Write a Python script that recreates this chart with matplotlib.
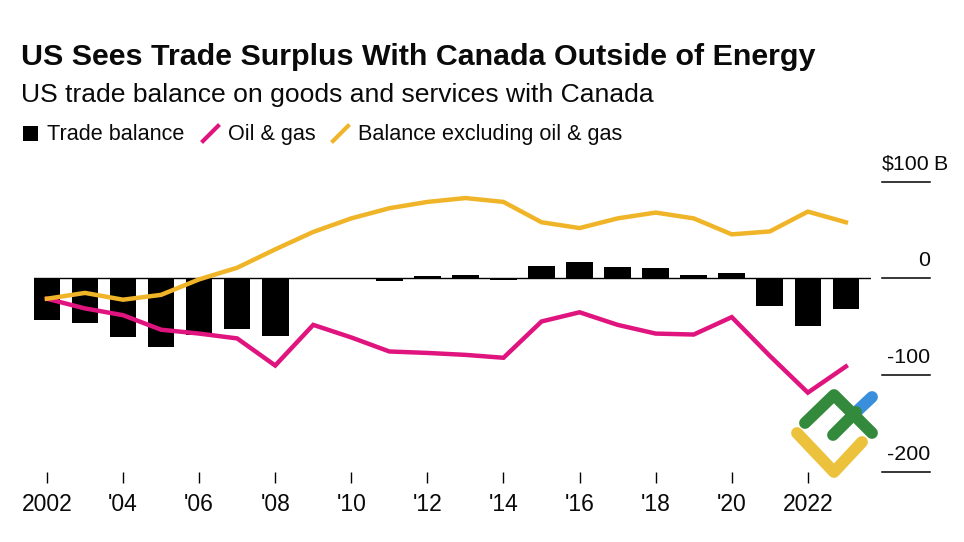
import matplotlib
matplotlib.use('Agg')
import matplotlib.pyplot as plt
import numpy as np

plt.rcParams['font.family'] = ['Liberation Sans', 'DejaVu Sans']

W, H = 964, 542

years = np.arange(2002, 2024)
trade_balance = [-43, -46, -61, -70.5, -58, -52, -59, -0.5, 0.5, -3, 2,
                 4, -2, 13, 16.5, 12, 11, 4, 5.5, -29, -49.5, -32]
oil_gas = [-21, -31, -38, -53, -57, -62, -90, -48, -61, -75.5, -77,
           -79, -82, -44.5, -35, -48, -57, -58, -40, -80, -118, -91]
ex_oil_gas = [-21, -15, -22, -17, -1, 11, 30, 48, 62, 72.5, 79,
              83, 79, 58, 52, 62, 68, 62, 45.5, 48.5, 69, 58]
x_ticks = [2002, 2004, 2006, 2008, 2010, 2012, 2014, 2016, 2018, 2020, 2022]
x_labels = ['2002', "'04", "'06", "'08", "'10", "'12", "'14", "'16", "'18", "'20", '2022']
y_ticks = [100, 0, -100, -200]
y_labels = ['$100', '0', '-100', '-200']

PINK = '#e0147f'
YELLOW = '#f0b429'


def px(x, y):
    '''pixel coords to figure coords'''
    return x / W, 1 - y / H


def ftext(x, y, s, **kwargs):
    fx, fy = px(x, y)
    return fig.text(fx, fy, s, color='#0a0a0a', **kwargs)


def logo_line(xs, ys, color):
    fig.add_artist(plt.Line2D([x / W for x in xs], [1 - y / H for y in ys], color=color,
                              lw=8.5, solid_capstyle='round', solid_joinstyle='round', zorder=5))


fig = plt.figure(figsize=(W / 100, H / 100), dpi=100)

# axes box runs from the $100B line to the -200 line
left, right, top, bottom = 34, 871, 181.6, 472
ax = fig.add_axes([left / W, 1 - bottom / H, (right - left) / W, (bottom - top) / H])
ax.set_xlim(2001.66, 2023.66)
ax.set_ylim(-200, 100)
ax.patch.set_alpha(0)
for s in ax.spines.values():
    s.set_visible(False)

ax.bar(years, trade_balance, width=0.7, color='black', zorder=2)
ax.axhline(0, color='black', lw=1, zorder=1)
ax.plot(years, oil_gas, color=PINK, lw=3.2, zorder=3, solid_joinstyle='miter')
ax.plot(years, ex_oil_gas, color=YELLOW, lw=3.2, zorder=4, solid_joinstyle='miter')

ax.set_yticks([])
ax.set_xticks(x_ticks)
ax.set_xticklabels(x_labels, fontsize=16.5, color='#0a0a0a')
ax.tick_params(axis='x', length=8, width=1, pad=7, color='black', direction='out')

# y axis ticks sit right of the plot with labels on top of them
for val, lab in zip(y_ticks, y_labels):
    y_px = bottom - (val + 200) / 300 * (bottom - top)
    fig.add_artist(plt.Line2D([882 / W, 930 / W], [1 - y_px / H] * 2, color='black', lw=1.1))
    ftext(930, y_px - 12, lab, fontsize=15.4, ha='right', va='baseline')
ftext(933, top - 12, 'B', fontsize=15.4, ha='left', va='baseline')

ftext(21, 65, 'US Sees Trade Surplus With Canada Outside of Energy',
      fontsize=21.9, fontweight='bold', ha='left', va='baseline')
ftext(21, 102, 'US trade balance on goods and services with Canada',
      fontsize=19.05, ha='left', va='baseline')

# legend
fig.patches.append(plt.Rectangle(px(23, 141), 15 / W, 15 / H, transform=fig.transFigure,
                                 facecolor='black', edgecolor='none'))
ftext(47, 140, 'Trade balance', fontsize=15.6, ha='left', va='baseline')
fig.add_artist(plt.Line2D([203 / W, 218 / W], [1 - 141 / H, 1 - 126 / H], color=PINK, lw=3))
ftext(228, 140, 'Oil & gas', fontsize=15.6, ha='left', va='baseline')
fig.add_artist(plt.Line2D([333 / W, 348 / W], [1 - 141 / H, 1 - 126 / H], color=YELLOW, lw=3))
ftext(358, 140, 'Balance excluding oil & gas', fontsize=15.6, ha='left', va='baseline')

# watermark logo
logo_line([855, 872], [413, 397], '#3a8fdc')
logo_line([797, 834, 862], [433, 472, 442], '#ecc23c')
logo_line([805, 834, 872], [423, 395, 433], '#338a3c')
logo_line([833, 856], [435, 412], '#338a3c')

fig.savefig('out.png', dpi=100)
